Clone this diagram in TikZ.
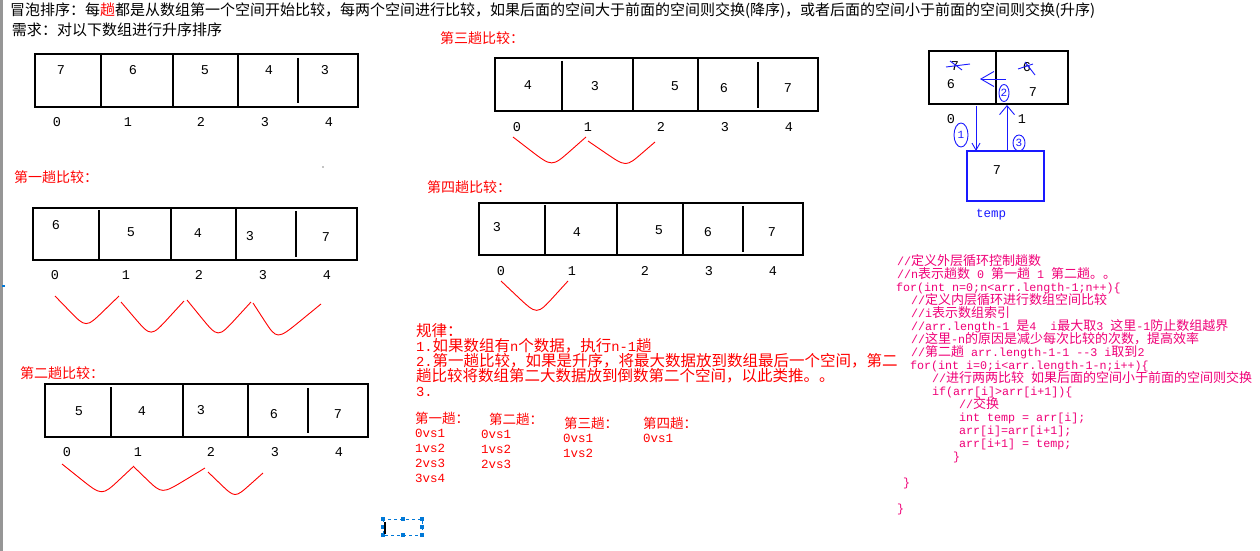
\documentclass[tikz,border=0pt]{standalone}
\usepackage{fontspec}
\setmainfont{Noto Sans CJK SC}
\newfontfamily\monof{Liberation Mono}
\usetikzlibrary{arrows.meta,shapes.geometric,calc}
\definecolor{codepink}{RGB}{240,0,120}
\definecolor{selblue}{RGB}{0,120,215}
\definecolor{barg}{RGB}{150,150,150}
\definecolor{pblue}{RGB}{25,25,255}
\newcommand{\asc}[1]{{\monof\fontsize{11.7}{13}\selectfont #1}}
\newcommand{\ascr}[1]{{\monof\fontsize{13.8}{14}\selectfont #1}}
\newcommand{\wv}[3]{\draw[wave] (#1) -- ($(#1)!0.45!(#2)$) .. controls (#2) and (#2) .. ($(#2)!0.55!(#3)$) -- (#3);}
\begin{document}
\begin{tikzpicture}[x=1pt,y=-1pt,
  every node/.style={inner sep=0pt, outer sep=0pt},
  tx/.style={anchor=base west, font=\fontsize{15}{18}\selectfont},
  hd/.style={anchor=base west, text=red, font=\fontsize{14}{16}\selectfont},
  dg/.style={font=\monof\fontsize{13.5}{13}\selectfont},
  arrbox/.style={draw=black, line width=1.2pt},
  wave/.style={draw=red, line width=0.9pt, line join=round},
  rule/.style={anchor=base west, text=red, font=\fontsize{15.5}{16}\selectfont},
  lh/.style={anchor=base west, text=red, font=\fontsize{13.5}{15}\selectfont},
  vs/.style={anchor=west, text=red, font=\monof\fontsize{12.5}{13}\selectfont},
  cd/.style={anchor=base west, text=codepink, font=\fontsize{13}{13}\selectfont},
  bl/.style={draw=pblue, line width=0.9pt},
  circnum/.style={ellipse, draw=pblue, line width=0.9pt, text=pblue, font=\monof\fontsize{11}{11}\selectfont},
  barb/.style={-{Straight Barb[length=9pt,width=15pt]}}
]
\useasboundingbox (0,0) rectangle (1260,551);
\fill[white] (0,0) rectangle (1260,551);
\fill[barg] (0,0) rectangle (3,551);
\fill[selblue] (2,285) rectangle (5,287);

% header
\node[tx] (title) at (10,15.2) {冒泡排序：每{\color{red}趟}都是从数组第一个空间开始比较，每两个空间进行比较，如果后面的空间大于前面的空间则交换(降序)，或者后面的空间小于前面的空间则交换(升序)};
\node[tx] (need) at (12,35.7) {需求：对以下数组进行升序排序};

% array 0
\draw[arrbox] (35,54) rectangle (358,107);
\draw[arrbox] (101,54) -- (101,107) (173,54) -- (173,107) (238,54) -- (238,107) (298,58) -- (298,103);
\node[dg] (a0v0) at (61,70) {7};
\node[dg] (a0v1) at (133,70) {6};
\node[dg] (a0v2) at (205,70) {5};
\node[dg] (a0v3) at (269,70) {4};
\node[dg] (a0v4) at (325,70) {3};
\node[dg] (a0i0) at (57,122) {0};
\node[dg] (a0i1) at (128,122) {1};
\node[dg] (a0i2) at (201,122) {2};
\node[dg] (a0i3) at (265,122) {3};
\node[dg] (a0i4) at (329,122) {4};
\fill (323,167) circle (0.7);

% pass 1
\node[hd] (h1) at (14,182.3) {第一趟比较：};
\draw[arrbox] (33,208) rectangle (357,260);
\draw[arrbox] (99,210) -- (99,260) (171,208) -- (171,260) (236,208) -- (236,260) (296,211) -- (296,257);
\node[dg] (a1v0) at (56,225) {6};
\node[dg] (a1v1) at (131,232) {5};
\node[dg] (a1v2) at (198,233) {4};
\node[dg] (a1v3) at (250,236) {3};
\node[dg] (a1v4) at (326,237) {7};
\node[dg] (a1i0) at (55,275) {0};
\node[dg] (a1i1) at (126,275) {1};
\node[dg] (a1i2) at (199,275) {2};
\node[dg] (a1i3) at (263,275) {3};
\node[dg] (a1i4) at (327,275) {4};
\wv{55,296}{86,328}{119,296}
\wv{121,302}{151,337}{184,301}
\wv{187,300}{218,338}{251,302}
\wv{253,303}{277,340}{321,304}

% pass 2
\node[hd] (h2) at (20,378.3) {第二趟比较：};
\draw[arrbox] (45,384) rectangle (368,437);
\draw[arrbox] (111,387) -- (111,437) (183,384) -- (183,437) (248,384) -- (248,437) (308,388) -- (308,433);
\node[dg] (a2v0) at (79,411) {5};
\node[dg] (a2v1) at (142,411) {4};
\node[dg] (a2v2) at (201,410) {3};
\node[dg] (a2v3) at (274,414) {6};
\node[dg] (a2v4) at (338,414) {7};
\node[dg] (a2i0) at (67,452) {0};
\node[dg] (a2i1) at (138,452) {1};
\node[dg] (a2i2) at (211,452) {2};
\node[dg] (a2i3) at (275,452) {3};
\node[dg] (a2i4) at (339,452) {4};
\wv{62,464}{102,496}{134,466}
\wv{134,467}{162,494}{205,468}
\wv{208,472}{235,498}{263,473}

% pass 3
\node[hd] (h3) at (440,43.3) {第三趟比较：};
\draw[arrbox] (495,58) rectangle (818,111);
\draw[arrbox] (562,61) -- (562,111) (633,58) -- (633,111) (698,58) -- (698,111) (758,62) -- (758,108);
\node[dg] (a3v0) at (528,85) {4};
\node[dg] (a3v1) at (595,86) {3};
\node[dg] (a3v2) at (675,86) {5};
\node[dg] (a3v3) at (724,88) {6};
\node[dg] (a3v4) at (788,88) {7};
\node[dg] (a3i0) at (517,127) {0};
\node[dg] (a3i1) at (588,127) {1};
\node[dg] (a3i2) at (661,127) {2};
\node[dg] (a3i3) at (725,127) {3};
\node[dg] (a3i4) at (789,127) {4};
\wv{513,137}{552,167}{586,137}
\wv{588,141}{626,167}{655,142}

% pass 4
\node[hd] (h4) at (427,192.3) {第四趟比较：};
\draw[arrbox] (479,203) rectangle (803,255);
\draw[arrbox] (545,205) -- (545,255) (617,203) -- (617,255) (683,203) -- (683,255) (743,206) -- (743,252);
\node[dg] (a4v0) at (497,227) {3};
\node[dg] (a4v1) at (577,232) {4};
\node[dg] (a4v2) at (659,230) {5};
\node[dg] (a4v3) at (708,232) {6};
\node[dg] (a4v4) at (772,232) {7};
\node[dg] (a4i0) at (501,271) {0};
\node[dg] (a4i1) at (572,271) {1};
\node[dg] (a4i2) at (645,271) {2};
\node[dg] (a4i3) at (709,271) {3};
\node[dg] (a4i4) at (773,271) {4};
\wv{501,281}{537,315}{568,281}

% rules
\node[rule] (r0) at (416,336.4) {规律：};
\node[rule] (r1) at (416,351.4) {\ascr{1.}如果数组有\ascr{n}个数据，执行\ascr{n-1}趟};
\node[rule] (r2) at (416,366.9) {\ascr{2.}第一趟比较，如果是升序，将最大数据放到数组最后一个空间，第二};
\node[rule] (r3) at (416,381.9) {趟比较将数组第二大数据放到倒数第二个空间，以此类推。。};
\node[rule] (r4) at (416,396.9) {\ascr{3.}};

\node[lh] (l1) at (415,423.1) {第一趟：};
\node[lh] (l2) at (489,424.1) {第二趟：};
\node[lh] (l3) at (564,428.1) {第三趟：};
\node[lh] (l4) at (643,428.1) {第四趟：};
\node[vs] (l1a) at (415,433) {0vs1};
\node[vs] (l1b) at (415,448) {1vs2};
\node[vs] (l1c) at (415,463) {2vs3};
\node[vs] (l1d) at (415,478) {3vs4};
\node[vs] (l2a) at (481,434) {0vs1};
\node[vs] (l2b) at (481,449) {1vs2};
\node[vs] (l2c) at (481,464) {2vs3};
\node[vs] (l3a) at (563,438) {0vs1};
\node[vs] (l3b) at (563,453) {1vs2};
\node[vs] (l4a) at (643,438) {0vs1};

% selection box
\draw[draw=selblue, line width=0.8pt, dash pattern=on 3pt off 3pt] (383,519) rectangle (422,535);
\foreach \hx/\hy in {383/519,403/519,422/519,422/527,422/535,403/535,383/535,383/527}
  \fill[fill=selblue] (\hx-1.7,\hy-1.7) rectangle (\hx+1.7,\hy+1.7);
\draw[draw=black, line width=1.2pt] (385,522) -- (385,534);

% swap diagram
\node[draw=black, line width=1.1pt, minimum width=67pt, minimum height=53pt] (cell0) at (962.5,77.5) {};
\node[draw=black, line width=1.1pt, minimum width=72pt, minimum height=53pt] (cell1) at (1032,77.5) {};
\node[dg] (s7) at (955,66) {7};
\node[dg] (s6a) at (951,84) {6};
\node[dg] (s6) at (1027,67) {6};
\node[dg] (s7b) at (1033,92) {7};
\draw[bl] (946,67) -- (970,64) (950,61) -- (962,70);
\draw[bl] (1018,69) -- (1033,64) (1025,62) -- (1035,75);
\coordinate (hR) at (1006,79);
\coordinate (hL) at (980,79);
\draw[bl, -{Straight Barb[length=13pt,width=15pt]}] (hR) -- (hL);
\node[draw=pblue, line width=1.1pt, minimum width=77pt, minimum height=50pt] (tempbox) at (1005.5,176) {};
\node[dg] (tv) at (997,170) {7};
\node[anchor=center, text=pblue, font=\monof\fontsize{12.5}{13}\selectfont] (templbl) at (991,215) {temp};
\node[dg] (i0) at (951,119) {0};
\node[dg] (i1) at (1022,119) {1};
\coordinate (dx) at (976,0);
\coordinate (ux) at (1007,0);
\draw[bl, -{Straight Barb[length=7pt,width=8pt]}] ([yshift=-2pt]cell0.south -| dx) -- (tempbox.north -| dx);
\draw[bl, barb] (tempbox.north -| ux) -- ([yshift=-1pt]cell1.south -| ux);
\node[circnum, minimum width=14pt, minimum height=24pt] (c1) at (961,135) {1};
\node[circnum, minimum width=10pt, minimum height=17pt] (c2) at (1004,93) {2};
\node[circnum, minimum width=12pt, minimum height=16pt] (c3) at (1019,143) {3};

% code
\node[cd] (k0) at (897,265.9) {\asc{//}定义外层循环控制趟数};
\node[cd] (k1) at (897,278.9) {\asc{//n}表示趟数\asc{~0~}第一趟\asc{~1~}第二趟。。};
\node[cd] (k2) at (896,291.9) {\asc{for(int n=0;n<arr.length-1;n++)\{}};
\node[cd] (k3) at (911,304.9) {\asc{//}定义内层循环进行数组空间比较};
\node[cd] (k4) at (911,317.9) {\asc{//i}表示数组索引};
\node[cd] (k5) at (911,330.9) {\asc{//arr.length-1~}是\asc{4~~i}最大取\asc{3~}这里\asc{-1}防止数组越界};
\node[cd] (k6) at (911,343.9) {\asc{//}这里\asc{-n}的原因是减少每次比较的次数，提高效率};
\node[cd] (k7) at (911,356.9) {\asc{//}第二趟\asc{~arr.length-1-1~-{}-3~i}取到\asc{2}};
\node[cd] (k8) at (910,369.9) {\asc{for(int i=0;i<arr.length-1-n;i++)\{}};
\node[cd] (k9) at (932,382.9) {\asc{//}进行两两比较\asc{~}如果后面的空间小于前面的空间则交换};
\node[cd] (k10) at (932,395.9) {\asc{if(arr[i]>arr[i+1])\{}};
\node[cd] (k11) at (959,408.9) {\asc{//}交换};
\node[cd] (k12) at (959,421.9) {\asc{int~temp~=~arr[i];}};
\node[cd] (k13) at (959,434.9) {\asc{arr[i]=arr[i+1];}};
\node[cd] (k14) at (959,447.9) {\asc{arr[i+1]~=~temp;}};
\node[cd] (k15) at (953,460.9) {\asc{\}}};
\node[cd] (k17) at (903,486.9) {\asc{\}}};
\node[cd] (k19) at (897,512.9) {\asc{\}}};
\end{tikzpicture}
\end{document}
